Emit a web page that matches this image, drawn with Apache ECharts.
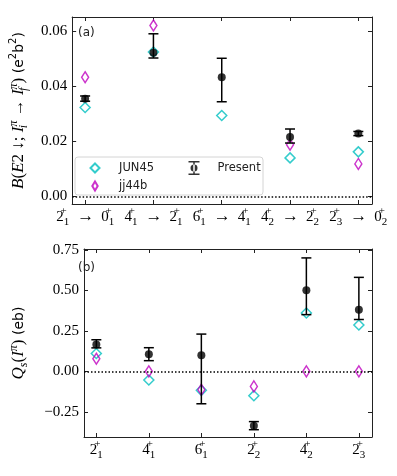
<!DOCTYPE html>
<html>
<head>
<meta charset="utf-8">
<script src="https://cdn.jsdelivr.net/npm/echarts@6/dist/echarts.min.js"></script>
<style>
  html, body { margin: 0; padding: 0; background: #fff; }
  #chart { width: 397px; height: 476px; }
</style>
</head>
<body>
<div id="chart"></div>
<script>
// level labels: [spin, index]
const topFrom = [['2', '1'], ['4', '1'], ['6', '1'], ['4', '2'], ['2', '3']];
const topTo = [['0', '1'], ['2', '1'], ['4', '1'], ['2', '2'], ['0', '2']];
const bottomLevels = [['2', '1'], ['4', '1'], ['6', '1'], ['2', '2'], ['4', '2'], ['2', '3']];

const be2Ticks = [0, 0.02, 0.04, 0.06];
const qTicks = [-0.25, 0, 0.25, 0.5, 0.75];

// B(E2) values (e^2 b^2)
const be2Present = [0.0355, 0.0522, 0.0433, 0.0216, 0.0229];
const be2Lo = [0.0346, 0.0503, 0.0344, 0.0194, 0.0221];
const be2Hi = [0.0365, 0.0591, 0.0502, 0.0245, 0.0236];
const be2Jun45 = [0.0323, 0.0525, 0.0294, 0.0140, 0.0162];
const be2Jj44b = [0.0433, 0.0621, null, 0.0188, 0.0118];

// Q_s values (eb)
const qPresent = [0.165, 0.105, 0.10, -0.335, 0.50, 0.38];
const qLo = [0.145, 0.066, -0.20, -0.36, 0.35, 0.32];
const qHi = [0.195, 0.146, 0.23, -0.31, 0.70, 0.58];
const qJun45 = [0.11, -0.053, -0.117, -0.15, 0.36, 0.286];
const qJj44b = [0.078, 0.0, -0.113, -0.093, 0.0, 0.0];

const serif = 'Liberation Serif';
const sans = 'DejaVu Sans';
const frameColor = '#222';
const cyan = '#00bfbf';
const magenta = '#bf00bf';

const levelRich = {
    n: { fontFamily: serif, fontSize: 15, lineHeight: 22, verticalAlign: 'middle', color: '#000' },
    p: { fontFamily: serif, fontSize: 11, lineHeight: 12, verticalAlign: 'top', width: 0, color: '#000' },
    s: { fontFamily: serif, fontSize: 11, lineHeight: 10, verticalAlign: 'bottom', color: '#000' },
    a: { fontFamily: serif, fontSize: 17, lineHeight: 22, verticalAlign: 'middle', padding: [0, 7, 0, 8], color: '#000' },
};

const level = (l) => `{n|${l[0]}}{p|+}{s|${l[1]}}`;

const chart = echarts.init(document.getElementById('chart'));

const pairs = (vals) => vals.map((v, i) => [i, v]);
const bars = (lo, hi) => lo.map((v, i) => [i, v, hi[i]]);

function renderErr(params, api) {
    const x = api.value(0);
    const top = api.coord([x, api.value(2)]);
    const bot = api.coord([x, api.value(1)]);
    const cap = 5;
    const style = { stroke: '#000', lineWidth: 1.5 };
    return {
        type: 'group',
        children: [
            { type: 'line', shape: { x1: top[0], y1: top[1], x2: bot[0], y2: bot[1] }, style: style },
            { type: 'line', shape: { x1: top[0] - cap, y1: top[1], x2: top[0] + cap, y2: top[1] }, style: style },
            { type: 'line', shape: { x1: bot[0] - cap, y1: bot[1], x2: bot[0] + cap, y2: bot[1] }, style: style },
        ],
    };
}

// axis helpers
function xAxisOf(gridIndex, min, max, ticks, pos, formatter) {
    return {
        type: 'value',
        gridIndex: gridIndex,
        position: pos,
        min: min,
        max: max,
        axisLine: { show: true, onZero: false, lineStyle: { color: frameColor, width: 1 } },
        axisTick: { show: true, inside: true, length: 4, customValues: ticks, lineStyle: { color: frameColor } },
        axisLabel: formatter ? {
            show: true, customValues: ticks, margin: 2, formatter: formatter, rich: levelRich,
        } : { show: false },
        splitLine: { show: false },
    };
}

function yAxisOf(gridIndex, min, max, ticks, pos, withLabels, name, nameGap, nameRich) {
    return {
        type: 'value',
        gridIndex: gridIndex,
        position: pos,
        min: min,
        max: max,
        name: name,
        nameLocation: 'middle',
        nameGap: nameGap,
        nameRotate: 90,
        nameTextStyle: { rich: nameRich },
        axisLine: { show: true, onZero: false, lineStyle: { color: frameColor, width: 1 } },
        axisTick: { show: true, inside: true, length: 4, customValues: ticks, lineStyle: { color: frameColor } },
        axisLabel: withLabels ? {
            show: true,
            customValues: ticks,
            margin: 5,
            color: '#000',
            fontFamily: serif,
            fontSize: 15,
            formatter: (v) => v.toFixed(2).replace('-', '\u2212'),
        } : { show: false },
        splitLine: { show: false },
    };
}

const nameRich = {
    i: { fontFamily: serif, fontStyle: 'italic', fontSize: 17, lineHeight: 22, verticalAlign: 'middle', color: '#000' },
    r: { fontFamily: serif, fontSize: 17, lineHeight: 22, verticalAlign: 'middle', color: '#000' },
    sb: { fontFamily: serif, fontStyle: 'italic', fontSize: 12, lineHeight: 10, verticalAlign: 'bottom', width: 0, color: '#000' },
    sbn: { fontFamily: serif, fontStyle: 'italic', fontSize: 12, lineHeight: 10, verticalAlign: 'bottom', color: '#000' },
    ps: { fontFamily: serif, fontStyle: 'italic', fontSize: 12, lineHeight: 12, verticalAlign: 'top', color: '#000' },
    g: { fontFamily: sans, fontSize: 14, lineHeight: 22, verticalAlign: 'middle', color: '#000' },
    gs: { fontFamily: sans, fontSize: 10, lineHeight: 14, verticalAlign: 'top', color: '#000' },
};

const be2Name = '{i|B}{r|(}{i|E}{r|2 ↓; }{i|I}{sb|i}{ps|π}{r| → }{i|I}{sb|f}{ps|π}{r|)}{g| (e}{gs|2}{g|b}{gs|2}{g|)}';
const qName = '{i|Q}{sbn|s}{r|(}{i|I}{ps|π}{r|)}{g| (eb)}';

const errIcon = 'path://M0,0h11v1.5h-11z M4.75,0h1.5v14h-1.5z M0,12.5h11v1.5h-11z M5.5,3.5a3.5,3.5 0 1,0 0.001,0z';
const diamondIcon = 'path://M5,0L10,5L5,10L0,5Z';
const thinDiamondIcon = 'path://M3,0L6,5L3,10L0,5Z';

const openDiamond = (color) => ({ color: 'rgba(255,255,255,0)', borderColor: color, borderWidth: 1.5 });

const zeroLine = {
    silent: true,
    symbol: 'none',
    label: { show: false },
    lineStyle: { type: [1.5, 2], color: '#000', width: 1.5 },
    data: [{ yAxis: 0 }],
};

const topX = [0, 1, 2, 3, 4];
const bottomX = [0, 1, 2, 3, 4, 5];

const legendText = { fontFamily: sans, fontSize: 11.5, color: '#222' };

const option = {
    animation: false,
    grid: [
        { left: 69, right: 25, top: 17, height: 187 },
        { left: 69, right: 25, top: 249, height: 188 },
    ],
    title: [
        { text: '(a)', left: 78, top: 27, padding: 0, textStyle: { fontFamily: sans, fontSize: 12, fontWeight: 'normal', color: '#222' } },
        { text: '(b)', left: 78, top: 262, padding: 0, textStyle: { fontFamily: sans, fontSize: 12, fontWeight: 'normal', color: '#222' } },
    ],
    xAxis: [
        xAxisOf(0, -0.19, 4.2, topX, 'bottom', (v) => {
            const i = Math.round(v);
            return level(topFrom[i]) + '{a|→}' + level(topTo[i]);
        }),
        xAxisOf(0, -0.19, 4.2, topX, 'top', null),
        xAxisOf(1, -0.235, 5.25, bottomX, 'bottom', (v) => level(bottomLevels[Math.round(v)])),
        xAxisOf(1, -0.235, 5.25, bottomX, 'top', null),
    ],
    yAxis: [
        yAxisOf(0, -0.00275, 0.0652, be2Ticks, 'left', true, be2Name, 41, nameRich),
        yAxisOf(0, -0.00275, 0.0652, be2Ticks, 'right', false),
        yAxisOf(1, -0.405, 0.755, qTicks, 'left', true, qName, 54, nameRich),
        yAxisOf(1, -0.405, 0.755, qTicks, 'right', false),
    ],
    legend: [
        {
            data: [{ name: 'JUN45', icon: diamondIcon }, { name: 'jj44b', icon: thinDiamondIcon }],
            orient: 'vertical',
            left: 89.5,
            top: 162,
            padding: 0,
            itemGap: 6,
            itemWidth: 38,
            itemHeight: 9,
            textStyle: legendText,
        },
        {
            data: [{ name: 'Present', icon: errIcon }],
            left: 188.5,
            top: 161,
            padding: 0,
            itemWidth: 37,
            itemHeight: 14,
            textStyle: legendText,
        },
    ],
    graphic: [
        {
            type: 'rect',
            z: 0,
            shape: { x: 75, y: 157, width: 188, height: 38, r: 3 },
            style: { fill: 'rgba(255,255,255,0.8)', stroke: '#d4d4d4', lineWidth: 1 },
        },
    ],
    series: [
        {
            name: 'JUN45',
            type: 'scatter',
            xAxisIndex: 0,
            yAxisIndex: 0,
            symbol: 'diamond',
            symbolSize: [10, 10],
            itemStyle: openDiamond(cyan),
            data: pairs(be2Jun45),
            markLine: zeroLine,
            z: 3,
        },
        {
            name: 'jj44b',
            type: 'scatter',
            xAxisIndex: 0,
            yAxisIndex: 0,
            symbol: 'diamond',
            symbolSize: [7, 11],
            itemStyle: openDiamond(magenta),
            data: pairs(be2Jj44b).filter((d) => d[1] !== null),
            z: 3,
        },
        {
            type: 'custom',
            xAxisIndex: 0,
            yAxisIndex: 0,
            renderItem: renderErr,
            encode: { x: 0, y: [1, 2] },
            data: bars(be2Lo, be2Hi),
            z: 4,
        },
        {
            name: 'Present',
            type: 'scatter',
            xAxisIndex: 0,
            yAxisIndex: 0,
            symbol: 'circle',
            symbolSize: 8,
            itemStyle: { color: '#000' },
            data: pairs(be2Present),
            z: 5,
        },
        {
            name: 'JUN45',
            type: 'scatter',
            xAxisIndex: 2,
            yAxisIndex: 2,
            symbol: 'diamond',
            symbolSize: [10, 10],
            itemStyle: openDiamond(cyan),
            data: pairs(qJun45),
            markLine: zeroLine,
            z: 3,
        },
        {
            name: 'jj44b',
            type: 'scatter',
            xAxisIndex: 2,
            yAxisIndex: 2,
            symbol: 'diamond',
            symbolSize: [7, 11],
            itemStyle: openDiamond(magenta),
            data: pairs(qJj44b),
            z: 3,
        },
        {
            type: 'custom',
            xAxisIndex: 2,
            yAxisIndex: 2,
            renderItem: renderErr,
            encode: { x: 0, y: [1, 2] },
            data: bars(qLo, qHi),
            z: 4,
        },
        {
            name: 'Present',
            type: 'scatter',
            xAxisIndex: 2,
            yAxisIndex: 2,
            symbol: 'circle',
            symbolSize: 8,
            itemStyle: { color: '#000' },
            data: pairs(qPresent),
            z: 5,
        },
    ],
};

chart.setOption(option);

window.addEventListener('resize', () => chart.resize());
</script>
</body>
</html>
